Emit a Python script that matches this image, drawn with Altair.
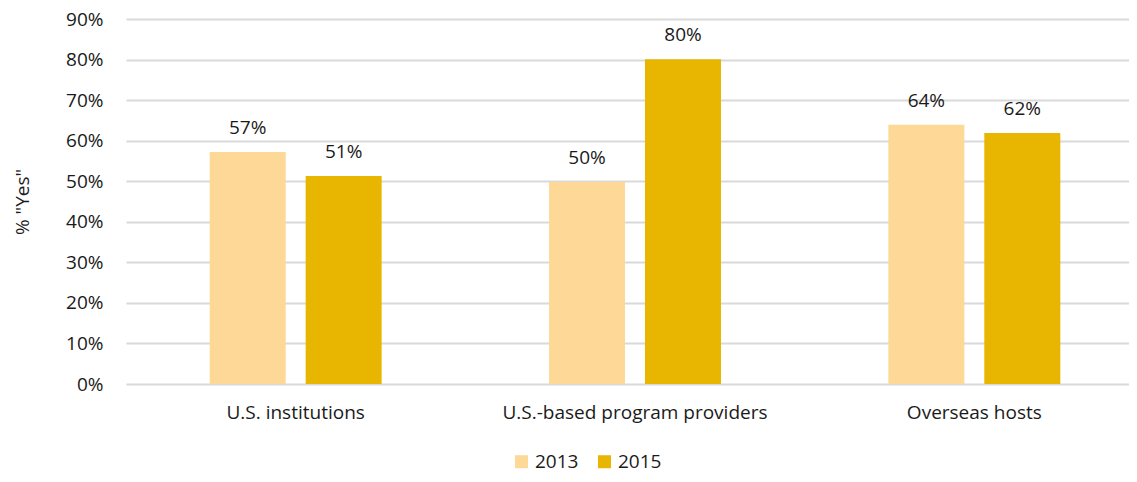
import altair as alt
import pandas as pd

categories = ["U.S. institutions", "U.S.-based program providers", "Overseas hosts"]
years = ["2013", "2015"]
values_2013 = [0.572, 0.498, 0.639]
values_2015 = [0.513, 0.801, 0.619]

rows = []
for i, c in enumerate(categories):
    rows.append({"category": c, "year": "2013", "value": values_2013[i]})
    rows.append({"category": c, "year": "2015", "value": values_2015[i]})
df = pd.DataFrame(rows)

FONT = "Open Sans"
FS = 19
TXT = "#1a1a1a"
colors = ["#FDD897", "#E8B500"]

x = alt.X("category:N", sort=categories, title=None,
          scale=alt.Scale(paddingInner=0, paddingOuter=0, range=[0, 1018]),
          axis=alt.Axis(labelAngle=0, labelFontSize=FS, labelColor=TXT, labelLimit=0,
                        labelFont=FONT, labelPadding=19, ticks=False, domain=False))
xo = alt.XOffset("year:N", sort=years,
                 scale=alt.Scale(paddingInner=0.208, paddingOuter=0.872))

base = alt.Chart(df).encode(x=x, xOffset=xo)

bars = base.mark_bar().encode(
    y=alt.Y("value:Q", title='% "Yes"',
            scale=alt.Scale(domain=[0, 0.9], nice=False),
            axis=alt.Axis(format=".0%", values=[i / 10 for i in range(10)],
                          labelFontSize=FS, labelColor=TXT, labelFont=FONT,
                          titleFont=FONT, titleFontSize=FS, titleFontWeight="normal",
                          titleColor=TXT, titlePadding=33,
                          ticks=False, domain=False, labelPadding=23,
                          gridColor="#d9d9d9", gridWidth=2)),
    color=alt.Color("year:N", sort=years,
                    scale=alt.Scale(domain=years, range=colors),
                    legend=alt.Legend(title=None, orient="none", direction="horizontal",
                                      legendX=386, legendY=433, symbolType="square",
                                      symbolSize=169, symbolStrokeWidth=0,
                                      labelFontSize=FS, labelFont=FONT,
                                      labelColor=TXT, columnPadding=16,
                                      symbolOpacity=1)),
)

labels = base.mark_text(dy=-14, baseline="bottom", fontSize=FS, font=FONT,
                        color=TXT).encode(
    y="value:Q",
    text=alt.Text("value:Q", format=".0%"),
)

chart = alt.layer(bars, labels).properties(
    width=1003, height=365,
    autosize=alt.AutoSizeParams(type="none"),
    padding={"left": 118, "top": 11, "right": 0, "bottom": 90},
).configure_view(stroke=None).configure_axis(grid=True).configure_axisX(grid=False)

chart.save("out.html", embed_options={"renderer": "svg", "actions": False})
